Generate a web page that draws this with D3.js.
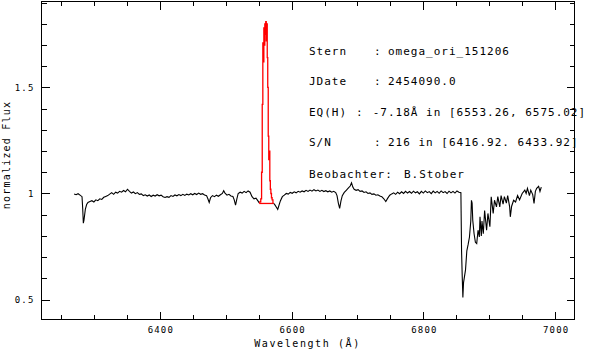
<!DOCTYPE html>
<html lang="de">
<head>
<meta charset="UTF-8">
<title>omega_ori_151206</title>
<script src="https://d3js.org/d3.v7.min.js"></script>
<style>
  body { margin: 0; padding: 0; background: #fff; }
  svg { display: block; }
  text { font-family: "DejaVu Sans Mono", monospace; fill: #000; }
</style>
</head>
<body>
<svg id="chart"></svg>
<script>
const W = 594, H = 351;

// axis ranges and ticks
const xDomain = [6220.5, 7029.4];
const yDomain = [0.406, 1.905];
const xMajor = [6400, 6600, 6800, 7000];
const xMinor = [6250, 6300, 6350, 6450, 6500, 6550, 6650, 6700, 6750, 6850, 6900, 6950];
const yMajor = [0.5, 1, 1.5];
const yMinor = [0.6, 0.7, 0.8, 0.9, 1.1, 1.2, 1.3, 1.4, 1.6, 1.7, 1.8, 1.9];
const yLabels = ["0.5", "1", "1.5"];

// spectrum left of H-alpha  [wavelength, flux]
const specBlue = [
  [6270,0.998],[6273,0.994],[6276,0.999],[6279,0.992],[6282,0.985],[6283,0.93],[6284,0.86],[6285,0.875],
  [6287,0.925],[6289,0.948],[6291,0.958],[6294,0.962],[6297,0.966],[6300,0.960],[6303,0.970],[6306,0.966],
  [6309,0.975],[6312,0.972],[6315,0.982],[6318,0.986],[6321,0.990],[6324,0.997],[6327,1.004],[6330,0.996],
  [6333,1.006],[6336,1.002],[6339,1.010],[6342,1.006],[6345,1.014],[6348,1.008],[6351,1.020],[6354,1.010],
  [6357,1.002],[6360,1.007],[6363,0.999],[6366,1.004],[6369,0.996],[6372,0.998],[6375,0.990],[6378,0.994],
  [6381,0.988],[6384,0.993],[6387,0.986],[6390,0.992],[6393,0.988],[6396,0.994],[6399,0.989],[6402,0.992],
  [6405,0.985],[6408,0.981],[6411,0.985],[6414,0.982],[6417,0.990],[6420,0.986],[6423,0.993],[6426,0.989],
  [6429,0.995],[6432,0.990],[6435,0.996],[6438,0.991],[6441,0.997],[6444,0.993],[6447,0.999],[6450,0.994],
  [6453,1.000],[6456,0.995],[6459,1.002],[6462,0.996],[6465,0.999],[6468,0.993],[6471,0.990],[6473,0.975],
  [6475,0.958],[6477,0.980],[6480,0.990],[6483,0.985],[6486,0.992],[6489,0.987],[6492,0.994],[6495,1.000],
  [6497,1.013],[6499,1.002],[6502,0.992],[6505,0.996],[6508,0.988],[6511,0.986],[6513,0.970],[6515,0.945],
  [6517,0.975],[6519,1.000],[6522,1.006],[6525,1.002],[6528,1.010],[6531,1.004],[6534,1.012],[6537,1.006],
  [6540,0.985],[6543,0.975],[6546,0.978],[6549,0.965],[6551,0.955]
];

// H-alpha emission, drawn in red
const specHalpha = [
  [6551.0,0.955],[6552.5,0.960],[6554.0,0.975],[6555.0,1.10],[6556.0,1.42],[6556.8,1.71],[6557.6,1.62],
  [6558.3,1.78],[6559.0,1.70],[6559.8,1.80],[6560.5,1.75],[6561.2,1.81],[6562.0,1.72],[6562.7,1.80],
  [6563.5,1.64],[6564.2,1.50],[6565.0,1.27],[6565.8,1.16],[6566.6,1.20],[6567.4,1.06],[6568.2,1.02],
  [6569.0,1.00],[6570.0,0.98],[6571.0,0.97],[6572.5,0.955]
];
const haContinuum = [[6551.0,0.953],[6572.5,0.953]];

// spectrum right of H-alpha
const specRed = [
  [6572.5,0.955],[6575,0.945],[6577,0.935],[6579,0.925],[6581,0.945],[6583,0.965],[6586,0.985],[6589,0.992],
  [6592,1.000],[6595,0.997],[6598,1.005],[6601,1.001],[6604,1.008],[6607,1.003],[6610,1.010],[6613,1.006],
  [6616,1.012],[6619,1.008],[6622,1.015],[6625,1.010],[6628,1.016],[6631,1.011],[6634,1.018],[6637,1.012],
  [6640,1.016],[6643,1.010],[6646,1.015],[6649,1.009],[6652,1.013],[6655,1.008],[6658,1.012],[6661,1.006],
  [6664,1.010],[6667,1.004],[6669,0.990],[6671,0.955],[6673,0.930],[6675,0.965],[6677,0.990],[6680,1.005],
  [6683,1.015],[6686,1.025],[6689,1.035],[6691,1.050],[6693,1.030],[6695,1.020],[6698,1.015],[6701,1.018],
  [6704,1.010],[6707,1.012],[6710,1.005],[6713,1.008],[6716,1.000],[6719,1.003],[6722,0.996],[6725,0.998],
  [6728,0.992],[6731,0.994],[6734,0.988],[6737,0.985],[6740,0.975],[6743,0.962],[6746,0.978],[6749,0.992],
  [6752,0.998],[6755,1.003],[6758,0.996],[6761,1.006],[6764,0.999],[6767,1.008],[6770,1.000],[6773,1.010],
  [6776,1.002],[6779,1.009],[6782,1.001],[6785,1.011],[6788,1.003],[6791,1.008],[6794,0.998],[6797,1.010],
  [6800,1.002],[6803,1.012],[6806,1.004],[6809,1.009],[6812,0.999],[6815,1.011],[6818,1.003],[6821,1.010],
  [6824,1.001],[6827,1.012],[6830,1.004],[6833,1.009],[6836,1.000],[6839,1.011],[6842,1.003],[6845,1.010],
  [6848,1.002],[6851,1.012],[6854,1.006],[6857,1.004],[6858,0.73],[6859,0.61],[6860,0.51],[6861,0.58],
  [6862,0.60],[6864,0.64],[6866,0.73],[6868,0.76],[6870,0.795],[6872,0.87],[6873,0.968],[6874,0.955],
  [6875,0.874],[6877,0.81],[6879,0.77],[6881,0.764],[6883,0.827],[6885,0.795],[6886,0.89],[6888,0.80],
  [6889,0.87],[6891,0.81],[6893,0.92],[6896,0.827],[6898,0.906],[6901,0.843],[6903,0.984],[6906,0.906],
  [6908,0.968],[6911,0.937],[6913,0.985],[6916,0.937],[6918,0.990],[6921,0.950],[6923,0.985],[6926,0.955],
  [6928,0.990],[6931,0.937],[6932,0.89],[6934,0.940],[6937,0.968],[6940,0.960],[6943,0.990],[6946,0.970],
  [6950,1.000],[6954,1.016],[6956,1.000],[6958,1.024],[6961,0.990],[6963,1.016],[6966,0.995],[6968,0.953],
  [6970,1.010],[6972,1.024],[6975,1.034],[6977,1.010],[6979,1.030]
];

// info block
const infoLabels = ["Stern", "JDate", "EQ(H)", "S/N", "Beobachter:"];
const infoColons = [":", ":", ":", ":", ""];
const infoValues = ["omega_ori_151206", "2454090.0", "-7.18\u00c5 in [6553.26, 6575.02]",
                    "216 in [6416.92. 6433.92]", "B.Stober"];

const svg = d3.select("#chart").attr("width", W).attr("height", H);

const x = d3.scaleLinear().domain(xDomain).range([41.5, 574.5]);
const y = d3.scaleLinear().domain(yDomain).range([319.5, 1.5]);

// frame + ticks on all four sides
function styleAxis(g) {
  g.select(".domain").remove();
  g.selectAll("line").attr("stroke", "#000").attr("shape-rendering", "crispEdges");
}

svg.append("g").attr("transform", `translate(0,${y.range()[0]})`)
  .call(d3.axisBottom(x).tickValues(xMajor).tickSize(-8).tickPadding(0).tickFormat(d3.format("d")))
  .call(styleAxis)
  .call(g => g.selectAll("text").attr("y", 13.5).attr("dy", null)
      .style("font-size", "9px").style("letter-spacing", "1.2px").attr("dx", "0.6px"));
svg.append("g").attr("transform", `translate(0,${y.range()[0]})`)
  .call(d3.axisBottom(x).tickValues(xMinor).tickSize(-4.5).tickFormat(""))
  .call(styleAxis);
svg.append("g").attr("transform", `translate(0,${y.range()[1]})`)
  .call(d3.axisTop(x).tickValues(xMajor).tickSize(-8).tickFormat(""))
  .call(styleAxis);
svg.append("g").attr("transform", `translate(0,${y.range()[1]})`)
  .call(d3.axisTop(x).tickValues(xMinor).tickSize(-4.5).tickFormat(""))
  .call(styleAxis);

svg.append("g").attr("transform", `translate(${x.range()[0]},0)`)
  .call(d3.axisLeft(y).tickValues(yMajor).tickSize(-8).tickPadding(0).tickFormat((d, i) => yLabels[i]))
  .call(styleAxis)
  .call(g => g.selectAll("text").attr("x", -7).attr("dy", "0.36em")
      .style("font-size", "9px").style("letter-spacing", "1.2px"));
svg.append("g").attr("transform", `translate(${x.range()[0]},0)`)
  .call(d3.axisLeft(y).tickValues(yMinor).tickSize(-5).tickFormat(""))
  .call(styleAxis);
svg.append("g").attr("transform", `translate(${x.range()[1]},0)`)
  .call(d3.axisRight(y).tickValues(yMajor).tickSize(-8).tickFormat(""))
  .call(styleAxis);
svg.append("g").attr("transform", `translate(${x.range()[1]},0)`)
  .call(d3.axisRight(y).tickValues(yMinor).tickSize(-5).tickFormat(""))
  .call(styleAxis);

svg.append("rect")
  .attr("x", x.range()[0]).attr("y", y.range()[1])
  .attr("width", x.range()[1] - x.range()[0]).attr("height", y.range()[0] - y.range()[1])
  .attr("fill", "none").attr("stroke", "#000").attr("shape-rendering", "crispEdges");

// spectrum
const line = d3.line().x(d => x(d[0])).y(d => y(d[1]));
const stepLine = d3.line().x(d => x(d[0])).y(d => y(d[1])).curve(d3.curveStep);

svg.append("path").datum(specBlue).attr("d", line)
  .attr("fill", "none").attr("stroke", "#000").attr("stroke-width", 1.1);
svg.append("path").datum(specRed).attr("d", line)
  .attr("fill", "none").attr("stroke", "#000").attr("stroke-width", 1.1);
svg.append("path").datum(specHalpha).attr("d", stepLine)
  .attr("fill", "none").attr("stroke", "#ff0000").attr("stroke-width", 1.3);
svg.append("path").datum(haContinuum).attr("d", line)
  .attr("fill", "none").attr("stroke", "#ff0000").attr("stroke-width", 1.3);

// axis titles
svg.append("text")
  .attr("x", 307.5).attr("y", 347)
  .attr("text-anchor", "middle")
  .style("font-size", "10px").style("letter-spacing", "1.6px")
  .text("Wavelength (\u00c5)");

svg.append("text")
  .attr("transform", "translate(10,155) rotate(-90)")
  .attr("text-anchor", "middle")
  .style("font-size", "10px").style("letter-spacing", "1.2px")
  .text("normalized Flux");

// info block
const infoY = [54.5, 85, 115.5, 146, 177.5];
const colonX = [374, 374, 356, 374, 0];
const valueX = [388, 388, 372.7, 388, 404];
const info = svg.append("g").style("font-size", "11px").style("letter-spacing", "1px");
infoLabels.forEach((lab, i) => {
  info.append("text").attr("x", 309).attr("y", infoY[i]).text(lab);
  if (infoColons[i]) info.append("text").attr("x", colonX[i]).attr("y", infoY[i]).text(infoColons[i]);
  info.append("text").attr("x", valueX[i]).attr("y", infoY[i]).text(infoValues[i]);
});
</script>
</body>
</html>
